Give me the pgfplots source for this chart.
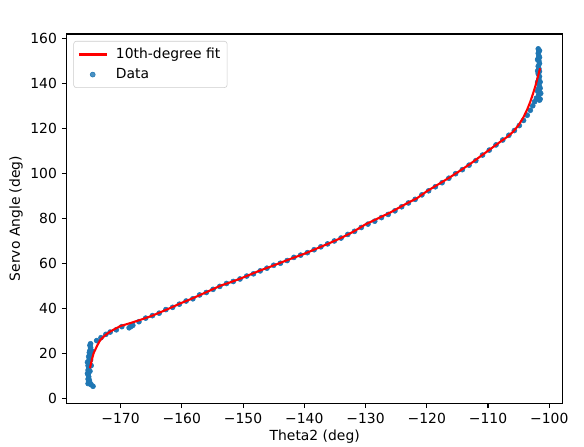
\documentclass[border=0pt]{standalone}
\usepackage{fontspec}
\setmainfont{DejaVu Sans}
\usepackage{pgfplots}
\pgfplotsset{compat=1.18}
\usetikzlibrary{calc}
\definecolor{mplblue}{HTML}{1F77B4}
\definecolor{legframe}{HTML}{CCCCCC}

\pgfplotstableread{
x y
-175.3 6.5
-175.2 7.5
-175.3 8.5
-175.2 9.5
-175.3 10.5
-175.2 11.5
-175.3 12.5
-175.2 13.5
-175.3 14.5
-175.1 15.5
-175.2 16.5
-175.1 17.5
-175.2 18.5
-175.0 19.3
-175.1 20.3
-175.0 21.2
-174.9 22.5
-175.0 23.5
-174.9 24.2
-174.8 19.5
-174.9 17.0
-175.0 12.0
-175.1 8.0
-175.0 6.8
-174.8 6.0
-174.5 5.3
-175.4 16.0
-175.4 11.0
-174.8 14.5
-174.7 21.0
-173.9 25.6
-173.2 26.9
-172.4 28.4
-171.7 29.4
-170.7 30.4
-169.8 31.8
-168.6 31.3
-168.3 31.9
-168.0 32.4
-167.0 34.0
-165.9 35.6
-164.8 36.7
-163.7 37.8
-162.6 39.4
-161.5 40.4
-160.4 41.8
-159.3 43.2
-158.2 44.2
-157.1 45.9
-156.0 47.0
-154.9 48.4
-153.8 49.7
-152.7 51.0
-151.6 51.9
-150.5 53.0
-149.4 54.3
-148.3 55.3
-147.2 56.6
-146.1 57.8
-145.0 59.1
-143.9 60.0
-142.8 61.2
-141.7 62.6
-140.6 63.6
-139.5 64.7
-138.4 66.0
-137.3 67.3
-136.2 68.6
-135.1 69.9
-134.0 71.2
-132.9 72.8
-131.8 74.2
-130.7 75.9
-129.6 77.4
-128.5 78.7
-127.4 80.3
-126.3 81.7
-125.2 83.3
-124.1 85.1
-123.0 86.8
-121.9 88.4
-120.8 90.4
-119.7 92.2
-118.6 94.0
-117.5 95.8
-116.4 97.8
-115.3 99.8
-114.2 101.6
-113.1 103.6
-112.0 105.6
-110.9 108.1
-109.8 110.3
-108.7 112.6
-107.6 114.8
-106.6 116.9
-105.7 119.0
-104.9 121.2
-104.2 123.5
-103.6 125.8
-103.1 128.0
-102.7 130.0
-102.4 131.8
-102.1 133.4
-101.8 134.0
-101.7 135.0
-101.6 136.2
-101.8 137.3
-101.6 138.4
-101.7 139.5
-101.5 140.6
-101.7 141.8
-101.6 143.0
-101.8 144.2
-101.6 145.3
-101.7 146.5
-101.8 147.6
-101.6 148.8
-101.7 149.9
-101.8 151.0
-101.7 152.2
-101.8 153.3
-101.7 154.4
-101.8 155.3
-101.5 133.0
-101.4 135.5
-101.5 137.8
-101.6 132.5
-101.9 136.5
-101.9 140.5
-101.9 145.5
-101.9 150.5
-101.6 151.5
-101.6 154.5
}\datatable

\pgfplotstableread{
x y
-175.0 13.3
-174.7 17.0
-174.4 20.0
-173.8 23.5
-173.3 25.9
-172.5 28.0
-171.7 29.6
-170.8 31.0
-170.0 32.1
-168.4 33.4
-166.8 34.8
-165.0 36.5
-163.5 38.2
-161.8 40.2
-160.2 42.2
-158.5 44.1
-157.0 45.9
-155.3 48.0
-153.7 50.0
-152.0 51.6
-150.4 53.2
-148.8 55.0
-147.2 56.8
-145.5 58.5
-143.9 60.2
-142.0 62.2
-140.0 64.2
-138.0 66.5
-136.0 68.8
-134.1 71.1
-132.0 74.0
-130.0 77.3
-128.0 79.9
-126.0 82.5
-124.4 84.9
-123.0 87.0
-121.6 88.9
-120.0 92.0
-117.8 95.6
-116.0 98.6
-114.6 101.1
-113.0 104.0
-111.3 107.4
-109.6 110.8
-108.0 114.0
-106.8 116.3
-105.9 118.5
-105.0 121.4
-104.2 125.0
-103.6 128.4
-103.1 131.8
-102.7 135.0
-102.3 138.5
-101.9 142.5
-101.5 146.7
}\fittable

\begin{document}
\begin{tikzpicture}
\begin{axis}[
  scale only axis,
  width=357.1pt, height=265.7pt,
  xmin=-178.8, xmax=-97.8,
  ymin=-2.2, ymax=161.9,
  xtick={-170,-160,-150,-140,-130,-120,-110,-100},
  xticklabels={−170,−160,−150,−140,−130,−120,−110,−100},
  ytick={0,20,40,60,80,100,120,140,160},
  yticklabels={0,20,40,60,80,100,120,140,160},
  tick align=outside,
  tick pos=left,
  major tick length=3.5pt,
  every tick/.style={black, line width=0.8pt},
  axis line style={line width=0.8pt},
  tick label style={font=\fontsize{10}{12}\selectfont},
  label style={font=\fontsize{10}{12}\selectfont},
  xlabel={Theta2 (deg)},
  ylabel={Servo Angle (deg)},
  x label style={at={(axis description cs:0.5,-0.092)}, anchor=center},
  y label style={at={(axis description cs:-0.102,0.5)}, anchor=center, rotate=0},
  clip marker paths=true,
  legend style={at={(0,1)}, anchor=north west, xshift=4.8pt, yshift=-5pt,
    draw=legframe, rounded corners=2pt, fill=white, fill opacity=0.8, text opacity=1,
    font=\fontsize{10}{12}\selectfont, row sep=1.5pt, column sep=4pt, inner xsep=3pt, inner ysep=3pt},
  legend cell align=left,
]
\addlegendimage{legend image code/.code={\draw[red, line width=1.5pt] (0pt,0pt) -- (20pt,0pt);}}
\addlegendentry{10th-degree fit}
\addlegendimage{legend image code/.code={\fill[mplblue] (10pt,0pt) circle (1.8pt);}}
\addlegendentry{Data}
\addplot[only marks, mark=*, mark size=1.8pt, color=mplblue, forget plot] table[x=x,y=y] {\datatable};
\addplot[red, line width=1.5pt, forget plot] table[x=x,y=y] {\fittable};
\end{axis}
\pgfresetboundingbox
\path[use as bounding box] ($(current axis.south west)+(-48pt,-31pt)$) rectangle ($(current axis.north east)+(15.3pt,24.5pt)$);
\end{tikzpicture}
\end{document}
